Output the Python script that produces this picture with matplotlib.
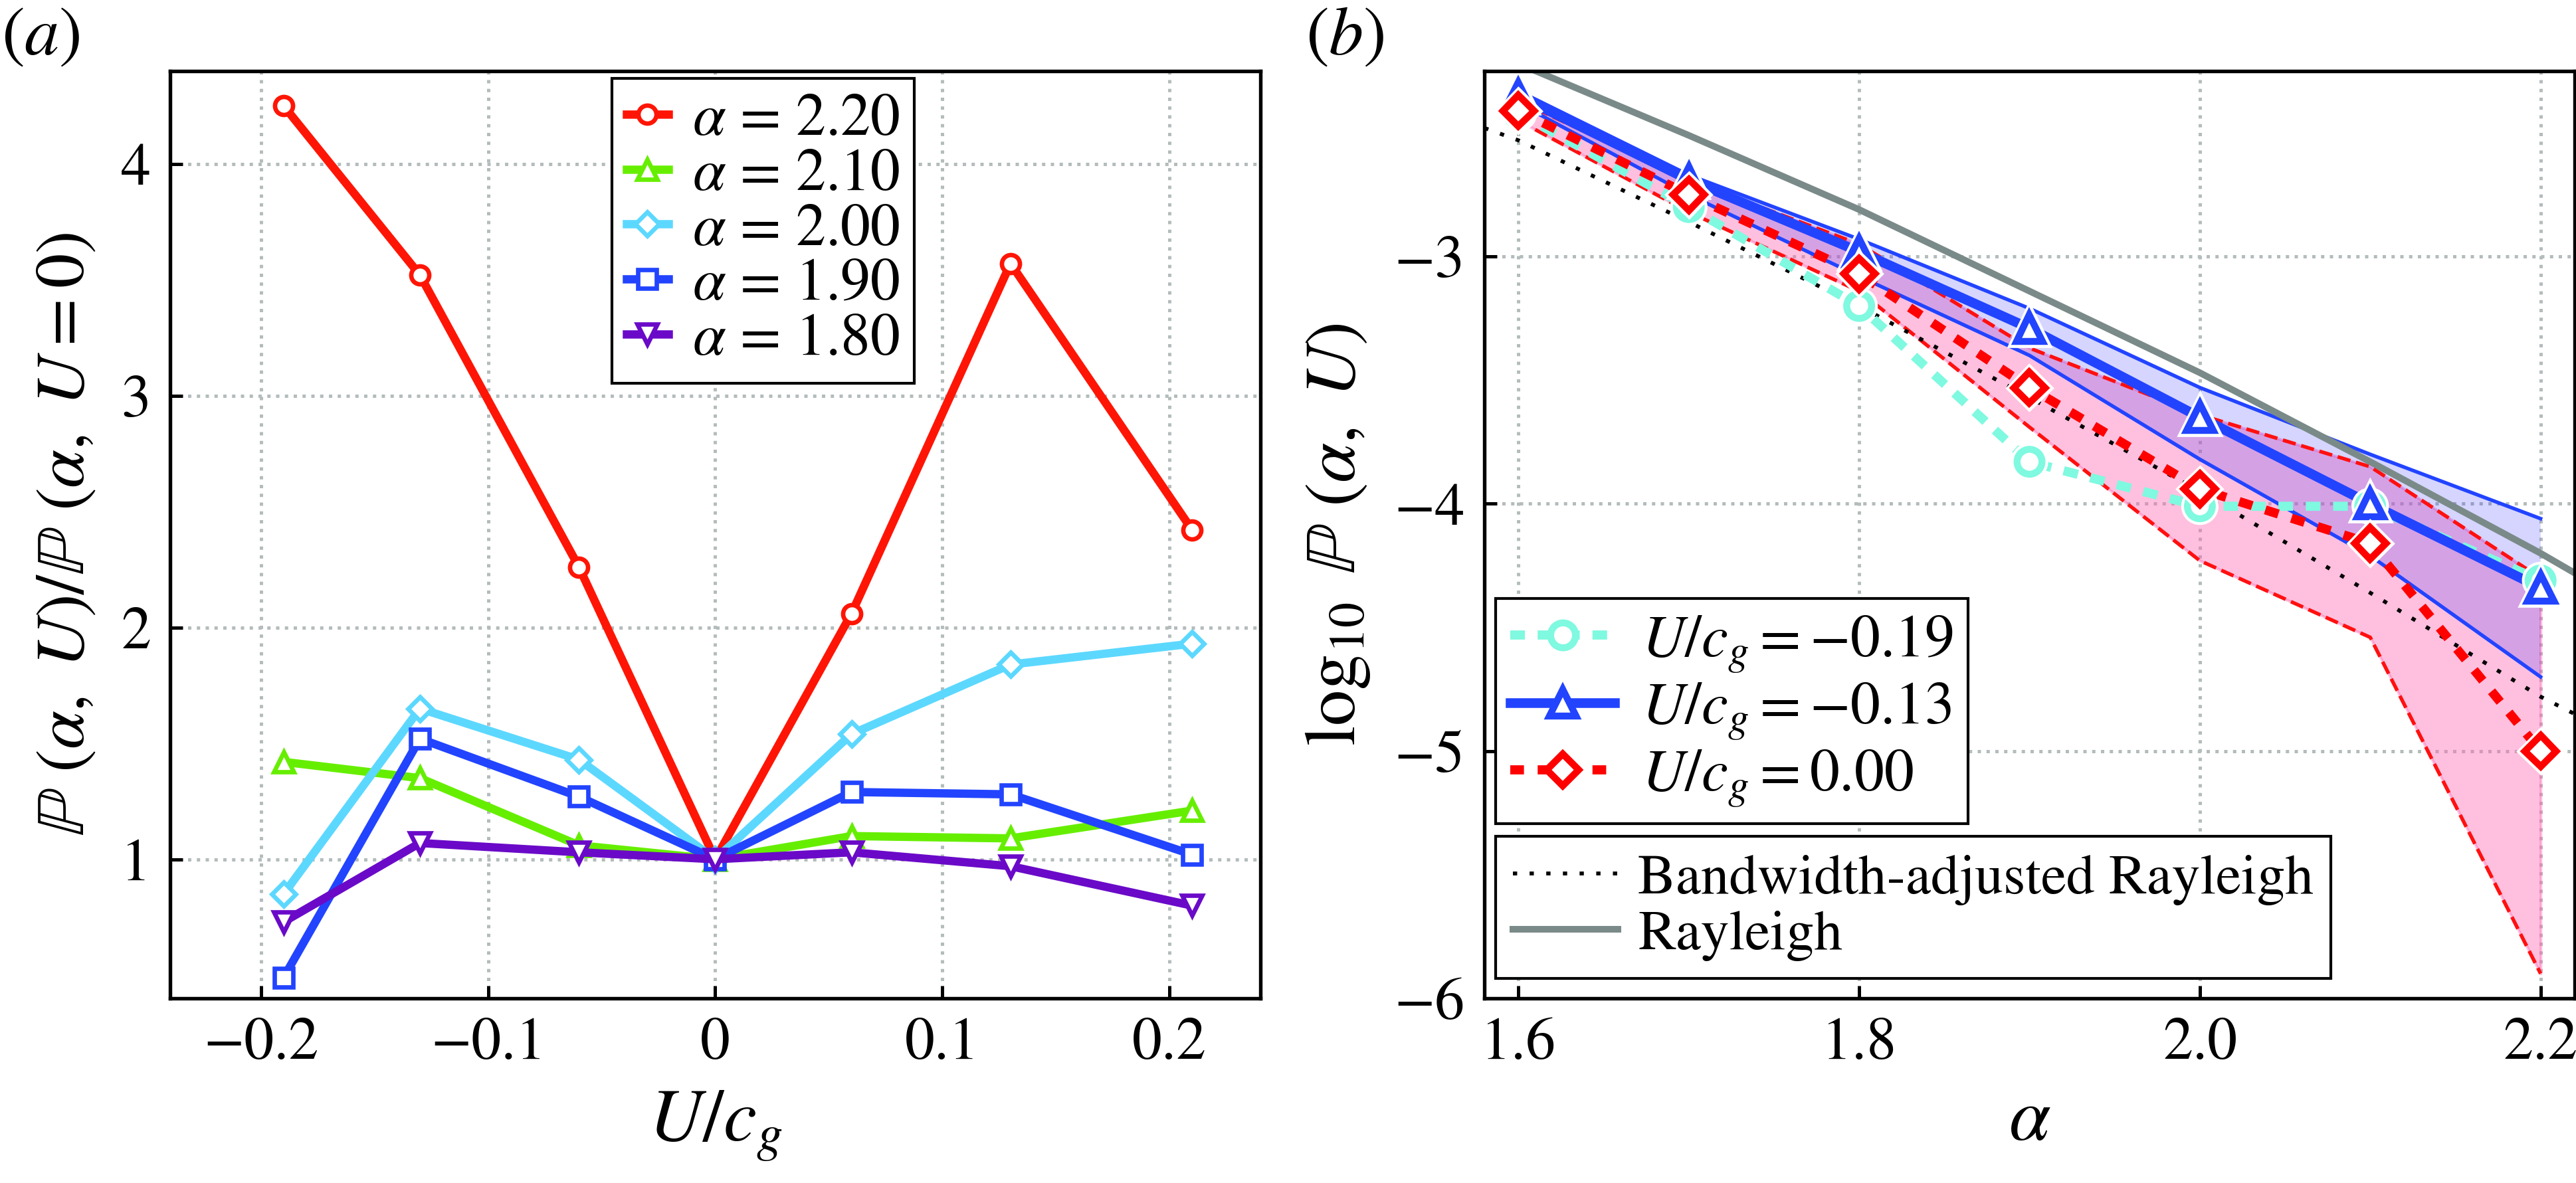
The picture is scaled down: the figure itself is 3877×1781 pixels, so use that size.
import numpy as np
import matplotlib
matplotlib.use('Agg')
import matplotlib.pyplot as plt
import matplotlib.patheffects as pe

plt.rcParams['font.family'] = ['STIXGeneral', 'Liberation Serif', 'DejaVu Serif']
plt.rcParams['mathtext.fontset'] = 'stix'

# ---- panel (a): probability ratio vs U/cg ----
u_cg = [-0.19, -0.13, -0.06, 0.0, 0.06, 0.13, 0.21]
ratio_220 = [4.25, 3.52, 2.26, 1.00, 2.06, 3.57, 2.42]
ratio_210 = [1.42, 1.35, 1.06, 1.00, 1.10, 1.09, 1.21]
ratio_200 = [0.85, 1.65, 1.43, 1.00, 1.54, 1.84, 1.93]
ratio_190 = [0.49, 1.52, 1.27, 1.00, 1.29, 1.28, 1.02]
ratio_180 = [0.73, 1.07, 1.03, 1.00, 1.03, 0.97, 0.80]
alpha_labels = ['2.20', '2.10', '2.00', '1.90', '1.80']

# ---- panel (b): log10 P vs alpha ----
alpha = [1.6, 1.7, 1.8, 1.9, 2.0, 2.1, 2.2]
logp_m019 = [-2.42, -2.80, -3.20, -3.83, -4.01, -4.01, -4.31]
logp_m013 = [-2.35, -2.69, -2.98, -3.29, -3.65, -4.00, -4.34]
logp_m013_hi = [-2.33, -2.67, -2.93, -3.21, -3.53, -3.80, -4.06]
logp_m013_lo = [-2.38, -2.75, -3.08, -3.40, -3.82, -4.21, -4.70]
logp_000 = [-2.41, -2.75, -3.07, -3.53, -3.94, -4.16, -5.00]
logp_000_hi = [-2.37, -2.69, -2.95, -3.37, -3.64, -3.85, -4.30]
logp_000_lo = [-2.45, -2.82, -3.14, -3.69, -4.23, -4.54, -5.90]

alpha_theory = [1.58, 1.6, 1.7, 1.8, 1.9, 2.0, 2.1, 2.2, 2.22]
rayleigh = [-2.17, -2.22, -2.51, -2.81, -3.14, -3.47, -3.83, -4.20, -4.28]
bw_rayleigh = [-2.48, -2.53, -2.86, -3.20, -3.57, -3.95, -4.36, -4.78, -4.85]

FS = 21.5
GRID = '#b4bcbc'

fig = plt.figure(figsize=(3878 / 300, 1781 / 300), dpi=300)
ax1 = fig.add_axes([256 / 3878, 1 - 1503 / 1781, 1641 / 3878, 1396 / 1781])
ax2 = fig.add_axes([2234 / 3878, 1 - 1503 / 1781, 1641 / 3878, 1396 / 1781])

for ax in (ax1, ax2):
    ax.set_axisbelow(True)
    ax.grid(True, linestyle=':', color=GRID, linewidth=1.2)
    ax.tick_params(direction='in', length=4.5, width=1.2, labelsize=FS, pad=7,
                   top=False, right=False)
    for sp in ax.spines.values():
        sp.set_linewidth(1.3)

# panel (a)
series_a = [ratio_220, ratio_210, ratio_200, ratio_190, ratio_180]
colors_a = ['#ff1505', '#66ee00', '#5cd8ff', '#2244ff', '#6a0ac8']
markers_a = ['o', '^', 'D', 's', 'v']
msizes_a = [6.5, 7, 6, 6.5, 7]
for vals, col, mk, ms, lab in zip(series_a, colors_a, markers_a, msizes_a, alpha_labels):
    ax1.plot(u_cg, vals, color=col, lw=3.0, marker=mk, ms=ms, mfc='white',
             mec=col, mew=1.6, label=r'$\alpha$ = ' + lab)

ax1.set_xlim(-0.24, 0.24)
ax1.set_ylim(0.4, 4.4)
ax1.set_xticks([-0.2, -0.1, 0.0, 0.1, 0.2])
ax1.set_xticklabels(['\u22120.2', '\u22120.1', '0', '0.1', '0.2'])
ax1.set_yticks([1, 2, 3, 4])
ax1.set_xlabel(r'$U/c_g$', fontsize=27, labelpad=6)
ax1.set_ylabel(r'$\mathbb{P}\ (\alpha,\ U)/\mathbb{P}\ (\alpha,\ U=0)$', fontsize=25, labelpad=8)
leg = ax1.legend(loc='upper left', bbox_to_anchor=(0.405, 0.992), fontsize=21.5,
                 handlelength=0.7, handletextpad=0.4, borderpad=0.25, labelspacing=0.0,
                 fancybox=False, edgecolor='black', framealpha=1, borderaxespad=0)
leg.get_frame().set_linewidth(1.0)

# panel (b)
halo = [pe.Stroke(linewidth=4.5, foreground='white'), pe.Normal()]

ax2.fill_between(alpha, logp_000_lo, logp_000_hi, facecolor='#ff69b4', alpha=0.42,
                 edgecolor='#ff69b4', linewidth=1.0)
ax2.fill_between(alpha, logp_m013_lo, logp_m013_hi, facecolor='#2020ff', alpha=0.19,
                 linewidth=0)
ax2.plot(alpha, logp_m013_hi, color='#2244ff', lw=1.3)
ax2.plot(alpha, logp_m013_lo, color='#2244ff', lw=1.3)
ax2.plot(alpha, logp_000_hi, color='#ff1010', lw=1.3, ls='--')
ax2.plot(alpha, logp_000_lo, color='#ff1010', lw=1.3, ls='--')

ax2.plot(alpha_theory, bw_rayleigh, color='black', lw=1.4, ls=(0, (1.1, 3.2)))
ax2.plot(alpha_theory, rayleigh, color='#7a8a88', lw=2.4)

l1, = ax2.plot(alpha, logp_m019, color='#7ff9e0', lw=3.3, ls=(0, (1.6, 1.4)),
               marker='o', ms=9, mfc='white', mec='#7ff9e0', mew=2.5,
               label=r'$U/c_g = -0.19$')
l2, = ax2.plot(alpha, logp_m013, color='#2244ff', lw=3.5,
               marker='^', ms=9.5, mfc='white', mec='#2244ff', mew=2.5,
               label=r'$U/c_g = -0.13$')
l3, = ax2.plot(alpha, logp_000, color='#ff0000', lw=3.3, ls=(0, (1.5, 1.5)),
               marker='D', ms=8, mfc='white', mec='#ff0000', mew=2.5,
               label=r'$U/c_g = 0.00$')
for vals, col, mk, ms in [(logp_m019, '#7ff9e0', 'o', 9), (logp_m013, '#2244ff', '^', 9.5),
                          (logp_000, '#ff0000', 'D', 8)]:
    ax2.plot(alpha, vals, ls='none', marker=mk, ms=ms, mfc='white', mec=col, mew=2.5,
             path_effects=halo)

l4, = ax2.plot([], [], color='black', lw=1.4, ls=(0, (1.1, 3.2)),
               label='Bandwidth-adjusted Rayleigh')
l5, = ax2.plot([], [], color='#7a8a88', lw=2.4, label='Rayleigh')

ax2.set_xlim(1.58, 2.22)
ax2.set_ylim(-6, -2.25)
ax2.set_xticks([1.6, 1.8, 2.0, 2.2])
ax2.set_xticklabels(['1.6', '1.8', '2.0', '2.2'])
ax2.set_yticks([-6, -5, -4, -3])
ax2.set_xlabel(r'$\alpha$', fontsize=27, labelpad=6)
ax2.set_ylabel(r'$\log_{10}\ \mathbb{P}\ (\alpha,\ U)$', fontsize=26, labelpad=8)

leg1 = ax2.legend(handles=[l1, l2, l3], loc='lower left', bbox_to_anchor=(0.0104, 0.1885),
                  fontsize=21.5, handlelength=1.75, handletextpad=0.45, borderpad=0.25,
                  labelspacing=0.12, fancybox=False, edgecolor='black', framealpha=1,
                  borderaxespad=0)
leg1.get_frame().set_linewidth(1.0)
ax2.add_artist(leg1)
leg2 = ax2.legend(handles=[l4, l5], loc='lower left', bbox_to_anchor=(0.0104, 0.0215),
                  fontsize=20.5, handlelength=1.85, handletextpad=0.36, borderpad=0.3,
                  labelspacing=0.08, fancybox=False, edgecolor='black', framealpha=1,
                  borderaxespad=0)
leg2.get_frame().set_linewidth(1.0)

fig.text(0.0005, 0.994, '($a$)', fontsize=25, ha='left', va='top')
fig.text(1965 / 3878, 0.994, '($b$)', fontsize=25, ha='left', va='top')

fig.savefig('out.png', dpi=300)
plt.close(fig)
